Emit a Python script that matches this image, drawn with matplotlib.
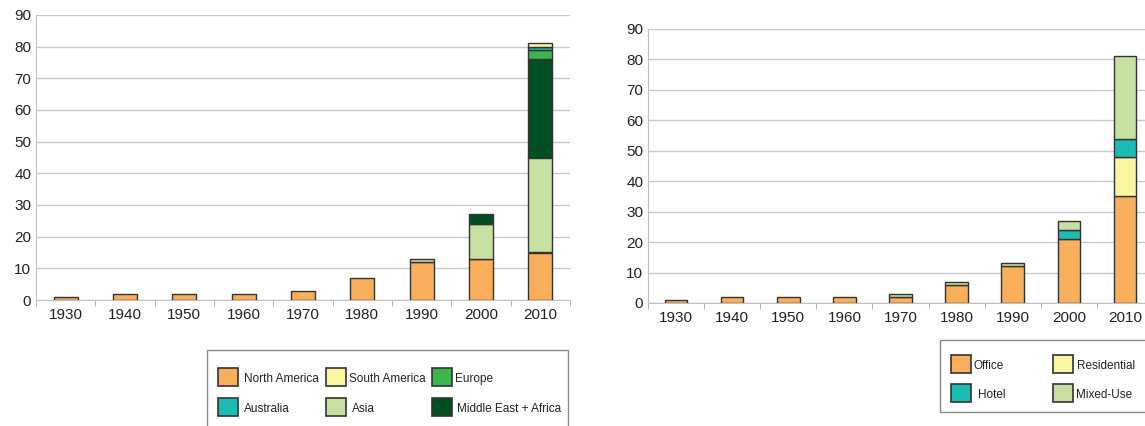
import matplotlib as mpl
mpl.use("Agg")
import matplotlib.pyplot as plt
from matplotlib.patches import Rectangle
import numpy as np

plt.rcParams["font.family"] = ["Liberation Sans", "DejaVu Sans"]

decades = ["1930", "1940", "1950", "1960", "1970", "1980", "1990", "2000", "2010"]

# left chart: by region
north_america = [1, 2, 2, 2, 3, 7, 12, 13, 15]
asia = [0, 0, 0, 0, 0, 0, 1, 11, 30]
middle_east_africa = [0, 0, 0, 0, 0, 0, 0, 3, 31]
europe = [0, 0, 0, 0, 0, 0, 0, 0, 3]
australia = [0, 0, 0, 0, 0, 0, 0, 0, 1]
south_america = [0, 0, 0, 0, 0, 0, 0, 0, 1]

# right chart: by function
office = [1, 2, 2, 2, 2, 6, 12, 21, 35]
residential = [0, 0, 0, 0, 0, 0, 0, 0, 13]
hotel = [0, 0, 0, 0, 0, 0, 0, 3, 6]
mixed_use = [0, 0, 0, 0, 1, 1, 1, 3, 27]

C_NA = "#f9ae5b"
C_SA = "#faf5a0"
C_EU = "#3db54a"
C_AU = "#19bdb5"
C_AS = "#c5e0a0"
C_ME = "#004f22"

EDGE = "#333333"
GRID = "#c8c8c8"

fig = plt.figure(figsize=(11.45, 4.26), dpi=100)
W, H = 1145, 426


def px_axes(x0, y0, x1, y1):
    return fig.add_axes([x0 / W, 1 - y1 / H, (x1 - x0) / W, (y1 - y0) / H])


def stacked(ax, series):
    x = np.arange(len(decades))
    bottom = np.zeros(len(decades))
    for vals, col in series:
        v = np.array(vals, dtype=float)
        mask = v > 0
        ax.bar(x[mask], v[mask], 0.4, bottom=bottom[mask], color=col,
               edgecolor=EDGE, linewidth=1.0, zorder=3)
        bottom += v
    ax.set_xlim(-0.5, len(decades) - 0.5)
    ax.set_ylim(0, 90)
    ax.set_yticks(range(0, 91, 10))
    ax.set_xticks(x)
    ax.set_xticklabels(decades)
    ax.set_xticks(np.arange(-0.5, len(decades), 1), minor=True)
    ax.tick_params(axis="x", which="major", length=0, labelsize=11,
                   pad=6, colors="#222222")
    ax.tick_params(axis="x", which="minor", length=4, color="#aaaaaa")
    ax.tick_params(axis="y", length=0, labelsize=11, colors="#222222")
    ax.grid(axis="y", color=GRID, linewidth=1.0, zorder=0)
    for s in ("top", "right"):
        ax.spines[s].set_visible(False)
    ax.spines["left"].set_color("#c0c0c0")
    ax.spines["bottom"].set_color("#c0c0c0")


ax1 = px_axes(36, 15, 570, 300)
stacked(ax1, [(north_america, C_NA), (asia, C_AS), (middle_east_africa, C_ME),
              (europe, C_EU), (australia, C_AU), (south_america, C_SA)])

ax2 = px_axes(648, 29, 1153, 303)
stacked(ax2, [(office, C_NA), (residential, C_SA), (hotel, C_AU),
              (mixed_use, C_AS)])


def legend_box(x0, y0, x1, y1, entries):
    fig.patches.append(Rectangle((x0 / W, 1 - y1 / H), (x1 - x0) / W,
                                 (y1 - y0) / H, transform=fig.transFigure,
                                 facecolor="white", edgecolor="#888888",
                                 linewidth=1.0))
    for sx, sy, tx, label, col in entries:
        fig.patches.append(Rectangle((sx / W, 1 - (sy + 9) / H), 20 / W,
                                     18 / H, transform=fig.transFigure,
                                     facecolor=col, edgecolor=EDGE,
                                     linewidth=1.2))
        fig.text(tx / W, 1 - (sy + 2) / H, label, fontsize=8.5,
                 ha="left", va="center", color="#222222")


legend_box(207, 350, 568, 430, [
    (218, 377, 244, "North America", C_NA),
    (326, 377, 349, "South America", C_SA),
    (432, 377, 455, "Europe", C_EU),
    (218, 407, 244, "Australia", C_AU),
    (326, 407, 352, "Asia", C_AS),
    (432, 407, 457, "Middle East + Africa", C_ME),
])

legend_box(940, 340, 1150, 412, [
    (951, 364, 974, "Office", C_NA),
    (1053, 364, 1077, "Residential", C_SA),
    (951, 393, 978, "Hotel", C_AU),
    (1053, 393, 1076, "Mixed-Use", C_AS),
])

fig.savefig("out.png", dpi=100)
